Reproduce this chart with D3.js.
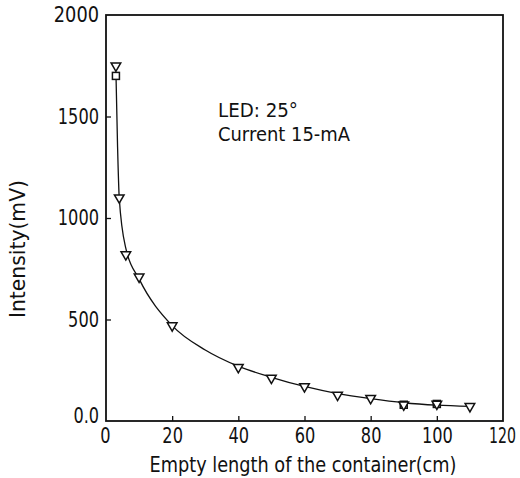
<!DOCTYPE html>
<html><head><meta charset="utf-8">
<script src="https://cdn.jsdelivr.net/npm/d3@7"></script>
<style>
html,body{margin:0;padding:0;background:#fff;}
text{font-family:"DejaVu Sans",sans-serif;fill:#111;}
</style></head>
<body><svg id="c" width="520" height="478"></svg>
<script>
const xTicks = [0,20,40,60,80,100,120];
const xTickLabels = ["0","20","40","60","80","100","120"];
const yTicks = [0,500,1000,1500,2000];
const yTickLabels = ["0.0","500","1000","1500","2000"];
const triX = [3,4,6,10,20,40,50,60,70,80,90,100,110];
const triY = [1750,1100,820,710,470,265,212,170,128,112,80,84,72];
const sqX = [3,90,100];
const sqY = [1700,80,84];
const curveX = [3,3.5,4,6,10,20,30,40,50,60,70,80,90,100,110];
const curveY = [1720,1350,1100,850,700,470,350,270,215,170,135,110,90,78,72];
const xTitle = "Empty length of the container(cm)";
const yTitle = "Intensity(mV)";
const notes = ["LED: 25°","Current 15-mA"];

const svg = d3.select("#c");
const L=106,R=503,T=15,B=421;
const x = d3.scaleLinear().domain([0,120]).range([L,R]);
const y = d3.scaleLinear().domain([0,2000]).range([B,T]);
const tw = s => Array.from(s).reduce((a,c)=>a+(c==="."?5:c===" "?6:10.3),0);

// frame
svg.append("rect").attr("x",L).attr("y",T).attr("width",R-L).attr("height",B-T)
  .attr("fill","none").attr("stroke","#111").attr("stroke-width",1.8);

// x axis
const xa = d3.axisBottom(x).tickValues(xTicks).tickSize(-5).tickPadding(7)
  .tickFormat((d,i)=>xTickLabels[i]);
const gx = svg.append("g").attr("transform",`translate(0,${B})`).call(xa);
gx.select(".domain").remove();
gx.selectAll(".tick line").attr("stroke","#111").attr("stroke-width",1.3)
  .filter(d=>d===0||d===120).remove();
gx.selectAll(".tick text").attr("font-size",21).attr("fill","#111")
  .attr("textLength",(d,i)=>i===6?27:tw(xTickLabels[i])).attr("lengthAdjust","spacingAndGlyphs")
  .attr("dx",(d,i)=>i===0?-1:i===6?-1:0);

// y axis
const ya = d3.axisLeft(y).tickValues(yTicks).tickSize(-5).tickPadding(7)
  .tickFormat((d,i)=>yTickLabels[i]);
const gy = svg.append("g").attr("transform",`translate(${L},0)`).call(ya);
gy.select(".domain").remove();
gy.selectAll(".tick line").attr("stroke","#111").attr("stroke-width",1.3)
  .filter(d=>d===0||d===2000).remove();
gy.selectAll(".tick text").attr("font-size",21).attr("fill","#111")
  .attr("textLength",(d,i)=>tw(yTickLabels[i])+ (i===4?4:0)).attr("lengthAdjust","spacingAndGlyphs")
  .attr("y",(d,i)=>i===0?-5:0);

// curve
const cdata = curveX.map((d,i)=>[d,curveY[i]]);
svg.append("path").datum(cdata)
  .attr("d",d3.line().x(d=>x(d[0])).y(d=>y(d[1])).curve(d3.curveMonotoneX))
  .attr("fill","none").attr("stroke","#111").attr("stroke-width",1.3);

// squares
const sq = sqX.map((d,i)=>[d,sqY[i]]);
svg.selectAll("rect.sq").data(sq).enter().append("rect").attr("class","sq")
  .attr("x",d=>x(d[0])-3.5).attr("y",d=>y(d[1])-3.5).attr("width",7).attr("height",7)
  .attr("fill","#fff").attr("stroke","#111").attr("stroke-width",1.5);

// triangles
const tri = triX.map((d,i)=>[d,triY[i]]);
const sym = d3.symbol().type(d3.symbolTriangle).size(40);
svg.selectAll("path.tri").data(tri).enter().append("path").attr("class","tri")
  .attr("d",sym).attr("transform",d=>`translate(${x(d[0])},${y(d[1])}) rotate(180)`)
  .attr("fill","#fff").attr("stroke","#111").attr("stroke-width",1.5);

// titles
svg.append("text").attr("x",303).attr("y",472).attr("text-anchor","middle")
  .attr("font-size",21).attr("textLength",307).attr("lengthAdjust","spacingAndGlyphs").text(xTitle);
svg.append("text").attr("transform","translate(25,249) rotate(-90)").attr("text-anchor","middle")
  .attr("font-size",21).attr("textLength",138).attr("lengthAdjust","spacingAndGlyphs").text(yTitle);

// annotation
const nl = [80,132];
svg.selectAll("text.note").data(notes).enter().append("text").attr("class","note")
  .attr("x",218).attr("y",(d,i)=>117+i*24).attr("font-size",20)
  .attr("textLength",(d,i)=>nl[i]).attr("lengthAdjust","spacingAndGlyphs")
  .text(d=>d);
</script></body></html>
